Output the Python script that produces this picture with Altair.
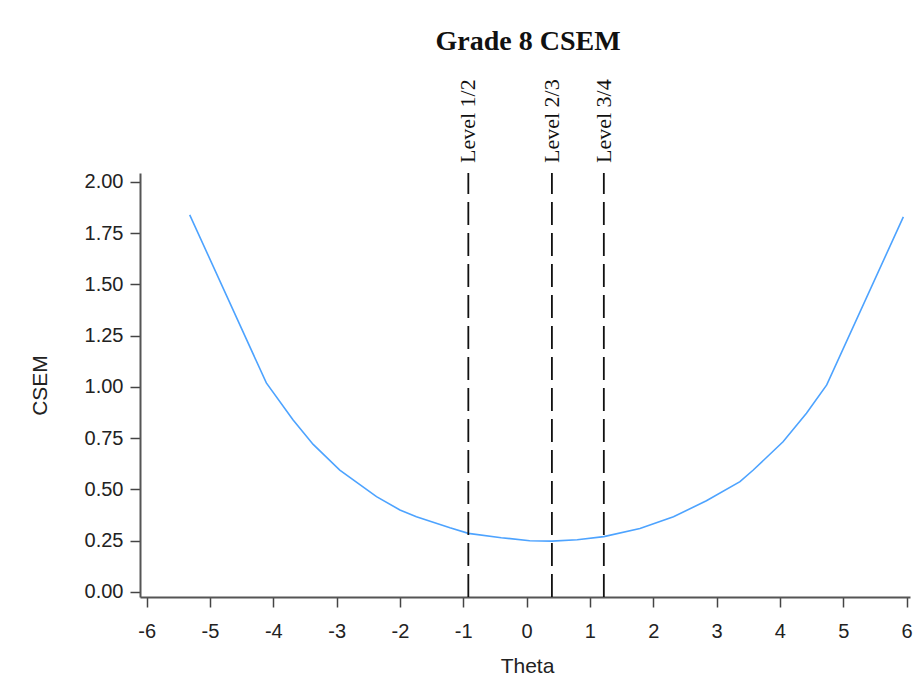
import altair as alt
import pandas as pd

# CSEM curve
theta = [-5.32, -4.11, -3.69, -3.37, -2.95, -2.37, -2.0, -1.74, -1.21, -0.92,
         -0.4, 0.05, 0.4, 0.8, 1.22, 1.79, 2.32, 2.84, 3.37, 3.58, 4.05, 4.42, 4.74, 5.95]
csem = [1.84, 1.02, 0.84, 0.72, 0.595, 0.465, 0.40, 0.367, 0.313, 0.286,
        0.265, 0.25, 0.248, 0.255, 0.27, 0.31, 0.367, 0.445, 0.538, 0.595, 0.733, 0.872, 1.01, 1.83]

# Cut-score levels
level_names = ["Level 1/2", "Level 2/3", "Level 3/4"]
level_theta = [-0.92, 0.40, 1.22]

x_ticks = [-6, -5, -4, -3, -2, -1, 0, 1, 2, 3, 4, 5, 6]
y_ticks = [0, 0.25, 0.5, 0.75, 1.0, 1.25, 1.5, 1.75, 2.0]

curve = pd.DataFrame({"theta": theta, "csem": csem})
levels = pd.DataFrame({"name": level_names, "theta": level_theta})

W, H = 770, 424
xscale = alt.Scale(domain=[-6.105, 6.055], nice=False, zero=False)
yscale = alt.Scale(domain=[-0.0244, 2.0439], nice=False, zero=False)

sans = "Liberation Sans"
serif = "Liberation Serif"

x_axis = alt.Axis(values=x_ticks, labelExpr="'' + datum.value", grid=False, labelFont=sans,
                  labelFontSize=20, labelColor="#222", labelPadding=14, tickSize=10,
                  tickColor="#444", tickWidth=1.5, domainColor="#555", domainWidth=2,
                  title="Theta", titleFont=sans, titleFontSize=21, titleFontWeight="normal",
                  titleColor="#222", titleX=387, titleY=69, titleBaseline="middle")
y_axis = alt.Axis(values=y_ticks, format=".2f", grid=False, labelFont=sans, labelFontSize=20,
                  labelColor="#222", labelPadding=7, tickSize=10, tickColor="#444", tickWidth=1.5,
                  domainColor="#555", domainWidth=2, title="CSEM", titleFont=sans,
                  titleFontSize=21, titleFontWeight="normal", titleColor="#222",
                  titleX=-100, titleY=H / 2, titleBaseline="middle", titleAngle=270)

line = alt.Chart(curve).mark_line(color="#4da3ff", strokeWidth=1.6).encode(
    x=alt.X("theta:Q", scale=xscale, axis=x_axis),
    y=alt.Y("csem:Q", scale=yscale, axis=y_axis),
)

rules = alt.Chart(levels).mark_rule(color="#111", strokeWidth=1.8, strokeDash=[23, 8]).encode(
    x=alt.X("theta:Q", scale=xscale),
    y=alt.value(H),
    y2=alt.value(0),
)

labels = alt.Chart(levels).mark_text(angle=270, align="left", baseline="middle",
                                     font=serif, fontSize=22, color="#111").encode(
    x=alt.X("theta:Q", scale=xscale),
    y=alt.value(-10),
    text="name:N",
)

chart = alt.layer(line, rules, labels).properties(
    width=W, height=H,
    background="white",
    title=alt.TitleParams("Grade 8 CSEM", font=serif, fontSize=28, fontWeight="bold",
                          color="#111", anchor="middle", frame="group", offset=1,
                          baseline="alphabetic", dx=3),
    autosize=alt.AutoSizeParams(type="none"),
    padding={"left": 140, "top": 173, "right": 11, "bottom": 95},
).configure_view(stroke=None)

chart.save("out.html", embed_options={"renderer": "svg", "actions": False})
